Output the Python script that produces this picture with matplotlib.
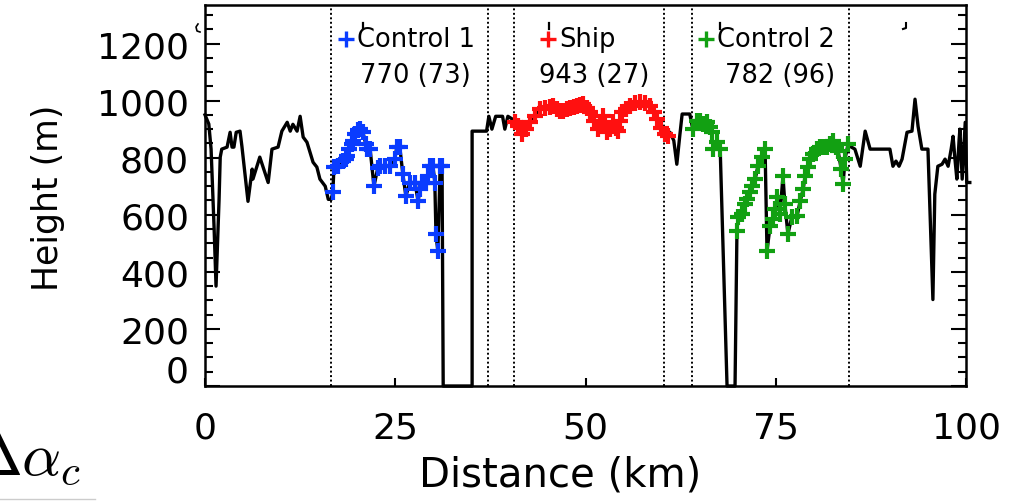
import matplotlib
matplotlib.use("Agg")
import numpy as np
import matplotlib.pyplot as plt
from matplotlib.lines import Line2D
from matplotlib.ticker import MultipleLocator, FixedLocator, FixedFormatter

plt.rcParams["font.family"] = ["DejaVu Sans"]

# Height profile along the track (km, m); 0 = no data
distance = [0, 0.5, 0.8, 1.2, 1.45, 1.85, 2.0, 2.2, 2.9, 3.3, 3.55, 3.8, 4.1, 4.6, 4.85,
            5.65, 6.2, 6.3, 7.2, 8.3, 8.8, 9.6, 10.1, 10.8, 11.2, 11.55, 12.1, 12.5, 12.9,
            13.4, 14.2, 14.7, 15.1, 15.8, 16.2, 16.6,
            # control 1
            16.8, 16.95, 17.5, 18.1, 18.5, 18.65, 18.9, 19.3, 19.45, 19.7, 20.1, 20.4, 20.75,
            21.15, 21.3, 21.7, 22.2, 22.7, 23.0, 23.65, 24.3, 24.95, 25.2, 25.6, 26.0, 26.4,
            26.9, 27.6, 28.0, 28.25, 28.5, 29.0, 29.3, 29.55, 29.95, 30.2, 30.35, 30.6, 30.9,
            31.15,
            31.3, 35.1, 35.1, 37.0, 37.3, 37.7, 38.2, 39.1, 39.4, 39.8, 40.4,
            # ship
            40.7, 41.1, 41.65, 42.2, 42.7, 43.35, 44.0, 44.7, 45.3, 45.7, 46.25, 46.65, 47.05,
            47.6, 48.0, 48.5, 48.9, 49.3, 49.7, 50.2, 50.6, 51.1, 51.65, 51.9, 52.3, 52.6, 52.8,
            53.2, 53.6, 54.0, 54.3, 54.5, 54.8, 55.3, 55.85, 56.5, 57.2, 57.8, 58.5, 59.0, 59.4,
            59.9, 60.4, 60.8,
            61.1, 61.6, 62.0, 62.4, 62.7, 63.7,
            # control 2
            64.1, 64.65, 65.0, 65.45, 65.95, 66.35, 66.6, 66.75, 67.3, 67.7, 68.6,
            69.65, 69.9, 70.05, 70.55, 70.95, 71.2, 71.6, 71.9, 72.3, 72.65, 73.2, 73.6, 73.85,
            74.25, 74.65, 74.9, 75.2, 75.55, 75.95, 76.2, 76.6, 77.1, 77.8, 78.2, 78.6, 78.85,
            79.25, 79.5, 79.9, 80.4, 80.8, 81.35, 81.75, 82.1, 82.5, 82.9, 83.2, 83.6, 83.85,
            84.1, 84.5,
            84.75, 85.4, 86.1, 86.75, 87.4, 90.0, 90.4, 90.8, 91.2, 91.6, 92.25, 92.9, 93.3,
            93.7, 94.2, 95.0, 95.65, 95.9, 96.3, 96.85, 97.25, 97.65, 98.05, 98.3, 98.55, 98.8,
            99.1, 99.2, 99.5, 99.9, 100.1, 100.5]
height = [950, 918, 830, 550, 350, 655, 802, 830, 837, 889, 837, 837, 889, 893, 840,
          647, 760, 725, 802, 713, 830, 837, 893, 924, 893, 917, 893, 945, 872,
          854, 784, 767, 725, 700, 654, 654,
          680, 767, 770, 789, 796, 805, 830, 847, 858, 882, 896, 900, 889,
          847, 830, 830, 700, 763, 772, 772, 772, 795, 837, 837, 742, 665,
          713, 713, 647, 689, 713, 713, 735, 772, 772, 713, 532, 472, 772,
          772,
          0, 0, 893, 893, 945, 900, 945, 945, 900, 945, 935,
          924, 910, 882, 900, 924, 945, 970, 975, 978, 981, 970, 965, 963,
          970, 975, 978, 981, 985, 987, 975, 960, 930, 900, 915, 945, 920, 889,
          900, 924, 905, 893, 930, 960, 970, 981, 990, 995, 990, 981, 960, 935,
          905, 882, 875,
          889, 860, 777, 880, 953, 953,
          900, 928, 928, 917, 924, 907, 889, 830, 854, 830, 0,
          0, 542, 591, 602, 637, 654, 679, 700, 725, 770, 802, 830, 472,
          560, 584, 619, 661, 602, 735, 637, 532, 591, 595, 647, 689, 735,
          767, 795, 812, 830, 837, 837, 837, 847, 858, 837, 823, 760, 707,
          795, 847,
          840, 830, 770, 893, 830, 830, 770, 788, 770, 795, 889, 893, 1005,
          910, 830, 830, 303, 672, 770, 777, 795, 770, 830, 875, 795, 725,
          865, 900, 725, 924, 713, 713]

# Sampling regions (km), the sampled stretch inside them, and their statistics
region_names = ["Control 1", "Ship", "Control 2"]
region_start = [16.55, 40.6, 64.0]
region_end = [37.2, 60.3, 84.6]
sample_start = [16.7, 40.6, 64.0]
sample_end = [31.2, 60.9, 84.6]
region_stats = ["770 (73)", "943 (27)", "782 (96)"]
region_colors = ["#0a3cff", "#ff1010", "#12a012"]

W, H = 1009, 502
fig = plt.figure(figsize=(W / 100, H / 100), dpi=100)
ax = fig.add_axes([205 / W, (H - 387) / H, 761 / W, 381 / H])

dist = np.array(distance)
hgt = np.array(height)

ax.plot(dist, hgt, color="black", lw=2.4, zorder=3, clip_on=False)

for i, col in enumerate(region_colors):
    ax.axvline(region_start[i], color="black", ls=(0, (1, 1.3)), lw=1.4, zorder=1)
    ax.axvline(region_end[i], color="black", ls=(0, (1, 1.3)), lw=1.4, zorder=1)
    sel = (dist >= sample_start[i]) & (dist <= sample_end[i]) & (hgt > 0)
    ax.plot(dist[sel], hgt[sel], ls="none", marker="+", ms=12, mew=3.0,
            color=col, zorder=4)

ax.set_xlim(0, 100)
ax.set_ylim(0, 1335)

ax.xaxis.set_major_locator(FixedLocator([0, 25, 50, 75, 100]))
ax.yaxis.set_major_locator(FixedLocator([0, 200, 400, 600, 800, 1000, 1200]))
ax.yaxis.set_major_formatter(FixedFormatter(["", "200", "400", "600", "800", "1000", "1200"]))
ax.yaxis.set_minor_locator(MultipleLocator(50))

ax.tick_params(axis="y", which="both", direction="in", left=True, right=True,
               width=1.5, labelsize=26, pad=11.5)
ax.tick_params(axis="y", which="major", length=11)
ax.tick_params(axis="y", which="minor", length=5.8)
ax.tick_params(axis="x", which="major", direction="in", top=False, bottom=True,
               length=5.8, width=1.5, labelsize=26, pad=18)
for s in ax.spines.values():
    s.set_linewidth(1.8)

# zero label sits a little higher than its tick
ax.annotate("0", xy=(0, 0), xycoords=("axes fraction", "data"), xytext=(-11.5, 10.5),
            textcoords="offset points", ha="right", va="center", fontsize=26)

fig.text(560 / W, (H - 476) / H, "Distance (km)", ha="center", va="center", fontsize=29)
fig.text(48 / W, (H - 198) / H, "Height (m)", rotation=90, ha="center", va="center",
         fontsize=25)

# labels of the three regions
plus_x = [346, 548, 706]
stat_x = [415, 594, 780]
for name, stat, col, px, sx in zip(region_names, region_stats, region_colors, plus_x, stat_x):
    fig.add_artist(Line2D([px / W], [(H - 40) / H], marker="+", ms=12, mew=2.4,
                          color=col, transform=fig.transFigure))
    fig.text((px + 11) / W, (H - 40) / H, name, ha="left", va="center", fontsize=18.5)
    fig.text(sx / W, (H - 76) / H, stat, ha="center", va="center", fontsize=18.5)

# stray marks from the original figure
for mx in [363, 549, 720]:
    fig.add_artist(Line2D([mx / W, mx / W], [(H - 24) / H, (H - 30) / H], color="black",
                          lw=1.6, transform=fig.transFigure))
fig.add_artist(Line2D([903 / W, 906 / W, 906 / W], [(H - 30) / H, (H - 29) / H, (H - 24) / H],
                      color="black", lw=1.5, transform=fig.transFigure))
fig.add_artist(Line2D([198 / W, 196 / W, 197 / W, 200 / W],
                      [(H - 25) / H, (H - 28) / H, (H - 32) / H, (H - 33) / H],
                      color="black", lw=1.2, transform=fig.transFigure))

# corner label of the neighbouring panel
fig.text(-29 / W, (H - 475) / H, r"$\Delta\alpha_c$", fontsize=44, va="baseline",
         ha="left", math_fontfamily="cm")
fig.add_artist(Line2D([0, 95 / W], [(H - 500) / H, (H - 500) / H], color="#cccccc",
                      lw=1, transform=fig.transFigure))

fig.savefig("out.png", dpi=100)
